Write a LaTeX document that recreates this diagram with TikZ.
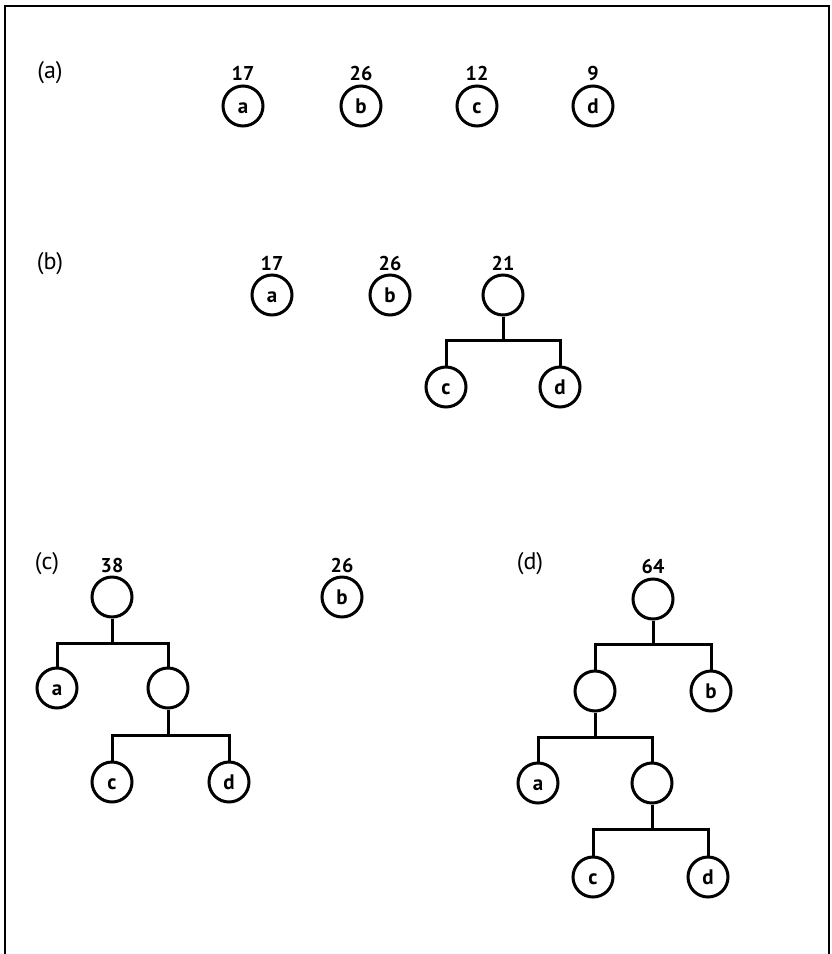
\documentclass[tikz,border=0pt]{standalone}
\usepackage{fontspec}
\setmainfont{PT Sans}
\begin{document}
\begin{tikzpicture}[x=1pt,y=-1pt,
  leaf/.style={circle,draw,line width=3pt,minimum size=40pt,inner sep=0pt,
    font=\fontsize{21}{25}\selectfont\bfseries,text height=14.5pt,text depth=0pt},
  weight/.style={inner sep=0pt,font=\fontsize{20}{24}\selectfont\bfseries},
  tag/.style={inner sep=0pt,font=\fontsize{24}{28}\selectfont},
  edge/.style={line width=3pt},
  frame/.style={line width=1.6pt}]
\useasboundingbox (0,0) rectangle (832,954);
% page frame, open at the bottom
\draw[frame] (5,954) -- (5,6) -- (829,6) -- (829,954);

% ---------- (a): four single nodes ----------
\node[tag] (ta) at (50,73) {(a)};
\node[leaf] (aa) at (243,106) {a}; \node[weight] (waa) at (243,73) {17};
\node[leaf] (ab) at (361,106) {b}; \node[weight] (wab) at (361,73) {26};
\node[leaf] (ac) at (477,106) {c}; \node[weight] (wac) at (477,73) {12};
\node[leaf] (ad) at (593,106) {d}; \node[weight] (wad) at (593,73) {9};

% ---------- (b): c and d merged ----------
\node[tag] (tb) at (50,264) {(b)};
\node[leaf] (ba) at (272,295) {a}; \node[weight] (wba) at (272,263) {17};
\node[leaf] (bb) at (390,295) {b}; \node[weight] (wbb) at (390,263) {26};
\node[leaf] (br) at (503,295) {};  \node[weight] (wbr) at (503,263) {21};
\node[leaf] (bc) at (446,387) {c};
\node[leaf] (bd) at (560,387) {d};
\coordinate (bj) at (503,340);
\draw[edge] (br.south) -- (bj);
\draw[edge] (bc.north) |- (bj) -| (bd.north);

% ---------- (c): a joined with (c,d) ----------
\node[tag] (tc) at (47,564) {(c)};
\node[leaf] (cr) at (112,597) {}; \node[weight] (wcr) at (112,565) {38};
\node[leaf] (ca) at (57,688) {a};
\node[leaf] (cn) at (168,688) {};
\node[leaf] (cc) at (112,782) {c};
\node[leaf] (cd) at (229,782) {d};
\node[leaf] (cb) at (342,597) {b}; \node[weight] (wcb) at (342,565) {26};
\coordinate (cj1) at (112,643);
\coordinate (cj2) at (168,735);
\draw[edge] (cr.south) -- (cj1);
\draw[edge] (ca.north) |- (cj1) -| (cn.north);
\draw[edge] (cn.south) -- (cj2);
\draw[edge] (cc.north) |- (cj2) -| (cd.north);

% ---------- (d): complete tree ----------
\node[tag] (td) at (530,564) {(d)};
\node[leaf] (dr) at (653,599) {}; \node[weight] (wdr) at (653,566) {64};
\node[leaf] (dl) at (595,691) {};
\node[leaf] (db) at (711,691) {b};
\node[leaf] (da) at (538,783) {a};
\node[leaf] (dn) at (652,783) {};
\node[leaf] (dc) at (593,877) {c};
\node[leaf] (dd) at (708,877) {d};
\coordinate (dj1) at (653,644);
\coordinate (dj2) at (595,737);
\coordinate (dj3) at (652,829);
\draw[edge] (dr.south) -- (dj1);
\draw[edge] (dl.north) |- (dj1) -| (db.north);
\draw[edge] (dl.south) -- (dj2);
\draw[edge] (da.north) |- (dj2) -| (dn.north);
\draw[edge] (dn.south) -- (dj3);
\draw[edge] (dc.north) |- (dj3) -| (dd.north);
\end{tikzpicture}
\end{document}
